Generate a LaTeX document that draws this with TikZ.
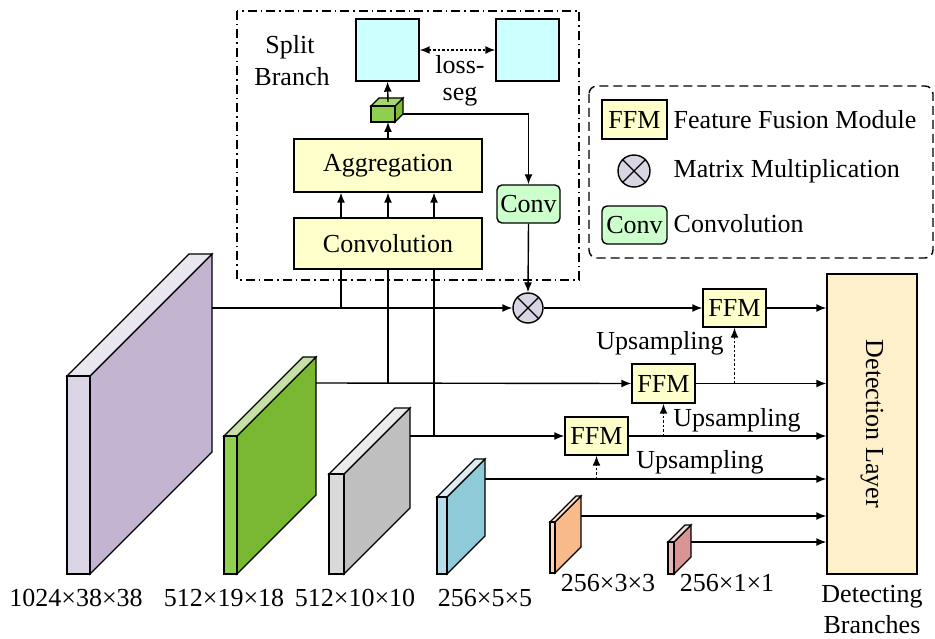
\documentclass[tikz,border=0pt]{standalone}
\usepackage{fontspec}
\setmainfont{Liberation Serif}
\usetikzlibrary{arrows.meta,calc}
\definecolor{sqcyan}{HTML}{CCFFFF}
\definecolor{boxyel}{HTML}{FFFFCC}
\definecolor{convgrn}{HTML}{CCFFCC}
\definecolor{detcol}{HTML}{FEF0CB}
\definecolor{otcol}{HTML}{DAD5E5}
\newcommand\fs{\fontsize{26}{29}\selectfont}
\newcommand\myplate[8]{%
  \draw[fill=#7] (#2,#3) -- (#2,#4) -- ({#2+#5},{#4-#5}) -- ({#2+#5},{#3-#5}) -- cycle;
  \draw[fill=#8] (#1,#3) -- (#2,#3) -- ({#2+#5},{#3-#5}) -- ({#1+#5},{#3-#5}) -- cycle;
  \draw[fill=#6] (#1,#3) rectangle (#2,#4);}
\begin{document}
\begin{tikzpicture}[x=1pt,y=-1pt,line width=1.4pt,
  >={Latex[length=10pt,width=8pt]},
  txt/.style={font=\fs,inner sep=0pt},
  ybox/.style={draw,fill=boxyel,font=\fs,inner sep=0pt,minimum width=#1},
  ybox/.default=63pt,
  cbox/.style={draw,fill=convgrn,rounded corners=5pt,font=\fs,inner sep=0pt,minimum width=63pt,minimum height=38pt},
  otimes/.style={draw,circle,fill=otcol,minimum size=30pt,inner sep=0pt},
  dotarrow/.style={->,dash pattern=on 2.5pt off 2pt,line width=1.5pt}]
\useasboundingbox (0,0) rectangle (935,639);

% split branch frame
\draw[dash pattern=on 9pt off 4pt on 1.5pt off 4pt] (237,11) rectangle (579,280);
% legend frame
\draw[dash pattern=on 9pt off 5pt,rounded corners=8pt] (589,86) rectangle (933,258);

% cyan squares
\node[draw,fill=sqcyan,minimum width=63pt,minimum height=62pt,inner sep=0pt] (sq1) at (387.5,50) {};
\node[draw,fill=sqcyan,minimum width=63pt,minimum height=62pt,inner sep=0pt] (sq2) at (527.5,50) {};
\draw[<->,dash pattern=on 2.5pt off 2pt,line width=1.5pt] (sq1.east) -- (sq2.west);
\node[txt] (loss) at (460,65) {loss-};
\node[txt] (seg) at (460,97) {seg};
\node[txt] (split) at (290,47) {Split};
\node[txt] (branch) at (292,77) {Branch};

% small cube
\draw[fill={rgb,255:red,127;green,186;blue,58}] (395,106) -- (403,98) -- (403,114) -- (395,122) -- cycle;
\draw[fill={rgb,255:red,166;green,217;blue,106}] (371,106) -- (395,106) -- (403,98) -- (379,98) -- cycle;
\draw[fill={rgb,255:red,143;green,207;blue,80}] (371,106) rectangle (395,122);
\coordinate (cubetop) at (388,102);
\coordinate (cubebot) at (388,122);
\coordinate (cubeside) at (403,114);

% aggregation / convolution
\node[ybox=188pt,minimum height=53pt] (agg) at (388,165.5) {Aggregation};
\node[ybox=188pt,minimum height=51pt] (convol) at (388,243.5) {Convolution};
\node[cbox] (conv) at (528.5,204) {Conv};
\node[otimes] (ot) at (528,308) {};
\draw (ot.north east) -- (ot.south west) (ot.north west) -- (ot.south east);

\draw[->] (cubetop) -- (sq1.south);
\draw[->] (agg.north) -- (cubebot);
\draw[->] (cubeside) -| (conv.north);
\draw[->] (conv.south) -- (ot.north);

% plates
\myplate{67}{90}{376}{574}{122}{{rgb,255:red,220;green,213;blue,230}}{{rgb,255:red,195;green,180;blue,209}}{{rgb,255:red,234;green,230;blue,240}}
\myplate{224}{237}{436}{574}{79}{{rgb,255:red,146;green,208;blue,80}}{{rgb,255:red,122;green,183;blue,51}}{{rgb,255:red,196;green,224;blue,163}}
\myplate{329}{344}{474}{574}{66}{{rgb,255:red,217;green,217;blue,217}}{{rgb,255:red,191;green,191;blue,191}}{{rgb,255:red,235;green,235;blue,235}}
\myplate{437}{447}{497}{574}{38}{{rgb,255:red,183;green,221;blue,232}}{{rgb,255:red,143;green,202;blue,217}}{{rgb,255:red,218;green,238;blue,243}}
\myplate{550}{555}{522}{573}{26}{{rgb,255:red,252;green,213;blue,181}}{{rgb,255:red,248;green,186;blue,138}}{{rgb,255:red,253;green,229;blue,211}}
\myplate{668}{674}{542}{574}{17}{{rgb,255:red,230;green,185;blue,184}}{{rgb,255:red,217;green,149;blue,148}}{{rgb,255:red,242;green,220;blue,219}}

\coordinate (p1) at (212,308);
\coordinate (p2) at (316,383);
\coordinate (p3) at (410,436);
\coordinate (p4) at (485,479);
\coordinate (p5) at (581,516);
\coordinate (p6) at (691,542);
\coordinate (j1) at (341,308);
\coordinate (j2) at (388,383);
\coordinate (j3) at (434,436);

% FFMs and detection layer
\node[ybox,minimum height=38pt] (ffm1) at (734.5,308) {FFM};
\node[ybox,minimum height=39pt] (ffm2) at (663.5,383.5) {FFM};
\node[ybox,minimum height=38pt] (ffm3) at (596.5,436) {FFM};
\node[draw,fill=detcol,minimum width=90pt,minimum height=300pt,inner sep=0pt] (det) at (872,424) {};
\node[txt,rotate=-90] (detl) at (det.center) {Detection Layer};

% connections from convolution block
\draw (j1 |- convol.south) -- (j1);
\draw (j2 |- convol.south) -- (j2);
\draw (j3 |- convol.south) -- (j3);
\draw[->] (j1 |- convol.north) -- (j1 |- agg.south);
\draw[->] (j2 |- convol.north) -- (j2 |- agg.south);
\draw[->] (j3 |- convol.north) -- (j3 |- agg.south);

\draw[->] (p1) -- (ot.west);
\draw[->] (ot.east) -- (ffm1.west);
\draw[->] (ffm1.east) -- (det.west |- ffm1.east);
\draw[->] (p2) -- (ffm2.west);
\draw[->] (ffm2.east) -- (det.west |- ffm2.east);
\draw[->] (p3) -- (ffm3.west);
\draw[->] (ffm3.east) -- (det.west |- ffm3.east);
\draw[->] (p4) -- (det.west |- p4);
\draw[->] (p5) -- (det.west |- p5);
\draw[->] (p6) -- (det.west |- p6);

\draw[dotarrow] (ffm1.south |- ffm2.east) -- (ffm1.south);
\draw[dotarrow] (ffm2.south |- ffm3.east) -- (ffm2.south);
\draw[dotarrow] (ffm3.south |- p4) -- (ffm3.south);

\node[txt] (up1) at (660,343) {Upsampling};
\node[txt] (up2) at (737,420) {Upsampling};
\node[txt] (up3) at (700,462) {Upsampling};

% size labels
\node[txt] (l1) at (76,598) {1024×38×38};
\node[txt] (l2) at (224,598) {512×19×18};
\node[txt] (l3) at (355,598) {512×10×10};
\node[txt] (l4) at (485,598) {256×5×5};
\node[txt] (l5) at (608,583) {256×3×3};
\node[txt] (l6) at (727,583) {256×1×1};
\node[txt] (db1) at (872,597) {Detecting};
\node[txt] (db2) at (872,625) {Branches};

% legend
\node[ybox=65pt,minimum height=39pt] (lffm) at (634.5,119.5) {FFM};
\node[txt,anchor=west] (lt1) at (673,120) {Feature Fusion Module};
\node[otimes,minimum size=32pt] (lot) at (634,171) {};
\draw (lot.north east) -- (lot.south west) (lot.north west) -- (lot.south east);
\node[txt,anchor=west] (lt2) at (673,171) {Matrix Multiplication};
\node[cbox,minimum width=65pt] (lconv) at (634.5,225) {Conv};
\node[txt,anchor=west] (lt3) at (673,224) {Convolution};
\end{tikzpicture}
\end{document}
